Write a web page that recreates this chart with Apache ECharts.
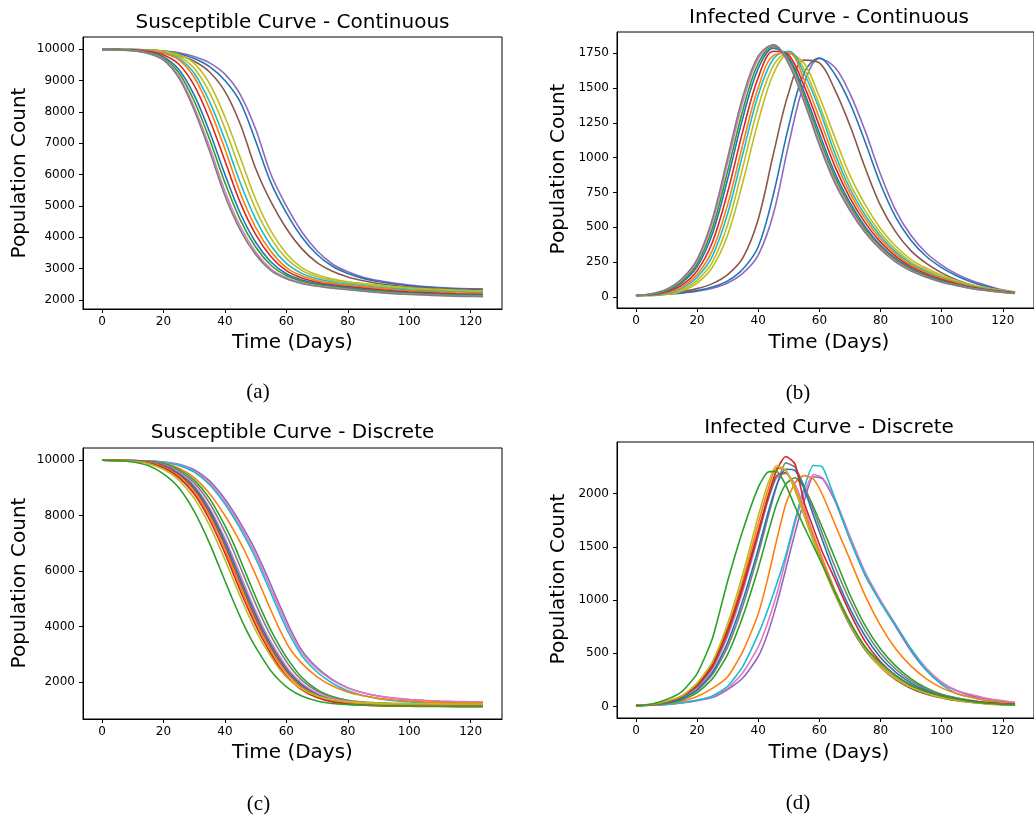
<!DOCTYPE html>
<html>
<head>
<meta charset="utf-8">
<script src="https://cdn.jsdelivr.net/npm/echarts@6/dist/echarts.min.js"></script>
<style>
  html, body { margin: 0; padding: 0; background: #fff; }
  #chart { width: 1034px; height: 821px; }
</style>
</head>
<body>
<div id="chart"></div>
<script>
// tab10 colours
const BLUE = '#1f77b4', ORANGE = '#ff7f0e', GREEN = '#2ca02c', RED = '#d62728', PURPLE = '#9467bd',
      BROWN = '#8c564b', PINK = '#e377c2', GRAY = '#7f7f7f', OLIVE = '#bcbd22', CYAN = '#17becf';

// time samples
const contDays = [0,5,10,15,20,25,30,35,40,45,50,55,60,65,70,75,80,85,90,95,100,105,110,115,120,124];
const discDays = [0,5,10,15,20,25,30,35,40,43,46,49,52,55,58,61,65,70,75,80,85,90,95,100,105,110,115,120,124];

// tick labels
const dayTicks = [0,20,40,60,80,100,120];
const ticksA = [2000,3000,4000,5000,6000,7000,8000,9000,10000];
const ticksB = [0,250,500,750,1000,1250,1500,1750];
const ticksC = [2000,4000,6000,8000,10000];
const ticksD = [0,500,1000,1500,2000];

// (a) susceptible, continuous
const sPurple = [9990,9988,9985,9975,9940,9880,9760,9560,9200,8550,7450,6000,5000,4180,3570,3150,2900,2730,2620,2540,2480,2430,2400,2375,2360,2353];
const sBlue2  = [9990,9987,9982,9968,9925,9850,9700,9440,9000,8312,7068,5734,4780,4013,3453,3077,2847,2692,2590,2515,2458,2413,2384,2362,2349,2342];
const sBrown  = [9990,9985,9974,9955,9900,9800,9610,9270,8650,7606,6192,5127,4281,3639,3192,2917,2735,2615,2531,2467,2415,2382,2356,2341,2333,2328];
const sOlive2 = [9990,9990,9988,9971,9929,9822,9546,8898,7836,6540,5212,4198,3487,3037,2804,2669,2586,2530,2481,2434,2395,2359,2340,2320,2302,2290];
const sOlive1 = [9990,9990,9984,9962,9906,9763,9387,8612,7473,6140,4898,3969,3330,2947,2744,2625,2551,2497,2447,2403,2364,2334,2314,2295,2278,2267];
const sCyan   = [9990,9990,9981,9953,9882,9705,9229,8323,7107,5737,4578,3734,3168,2852,2679,2577,2510,2459,2409,2368,2329,2304,2284,2264,2248,2238];
const sOrange = [9990,9990,9978,9946,9864,9658,9102,8094,6815,5414,4321,3545,3035,2773,2623,2533,2473,2424,2375,2335,2295,2275,2255,2235,2220,2212];
const sRed    = [9990,9987,9970,9925,9812,9517,8843,7757,6439,5107,4092,3383,2937,2705,2570,2488,2431,2381,2334,2294,2259,2239,2219,2201,2188,2180];
const sBlue   = [9990,9984,9960,9900,9749,9346,8532,7363,6006,4766,3844,3214,2841,2642,2525,2452,2397,2347,2302,2262,2233,2213,2193,2177,2165,2158];
const sGreen  = [9990,9981,9954,9884,9710,9243,8344,7125,5744,4559,3692,3109,2781,2601,2494,2426,2373,2323,2281,2241,2216,2196,2176,2159,2148,2142];
const sPink   = [9990,9979,9948,9869,9671,9138,8155,6884,5477,4346,3535,2999,2715,2555,2459,2396,2345,2295,2254,2214,2192,2172,2152,2137,2126,2121];
const sGray   = [9990,9978,9945,9860,9650,9080,8050,6750,5330,4230,3450,2940,2680,2530,2440,2380,2330,2280,2240,2200,2180,2160,2140,2125,2115,2110];

// (b) infected, continuous
const iPurple = [10,14,19,27,40,62,100,170,300,600,1100,1530,1712,1650,1460,1190,880,620,440,315,228,163,115,80,50,33];
const iBlue2  = [10,15,21,30,45,70,115,200,360,740,1230,1610,1715,1600,1390,1110,810,570,405,290,210,150,105,72,46,32];
const iBrown  = [10,18,26,38,59,95,160,282,558,1030,1470,1700,1680,1490,1230,925,655,465,330,240,172,121,85,55,40,30];
const iOlive2 = [10,10,17,42,99,213,444,827,1260,1604,1746,1677,1437,1149,872,661,491,363,268,205,155,116,85,64,47,37];
const iOlive1 = [10,10,21,50,119,249,519,935,1364,1663,1757,1637,1379,1081,815,617,458,339,250,192,145,109,80,60,44,35];
const iCyan   = [10,11,25,61,141,293,598,1031,1449,1712,1764,1604,1346,1034,778,586,435,321,237,183,137,103,76,57,42,33];
const iOrange = [10,13,29,70,160,334,663,1100,1503,1734,1751,1561,1284,990,746,560,415,306,227,175,131,99,72,54,40,32];
const iRed    = [10,15,36,84,188,392,752,1194,1575,1764,1736,1515,1228,941,711,531,393,290,215,165,124,93,68,51,38,30];
const iBlue   = [10,17,43,101,217,454,846,1288,1640,1785,1715,1470,1175,892,676,502,371,274,204,155,116,88,64,48,36,28];
const iGreen  = [10,19,47,111,236,493,903,1344,1676,1797,1701,1443,1141,863,655,486,359,265,197,150,112,85,62,47,35,27];
const iPink   = [10,21,52,123,257,535,964,1404,1712,1806,1685,1419,1112,838,635,471,348,256,190,143,107,82,59,45,33,26];
const iGray   = [10,22,55,130,270,560,1000,1440,1730,1810,1670,1400,1090,820,620,460,340,250,185,140,105,80,58,44,32,25];

// (c) susceptible, discrete
const sdPurple  = [9990,9990,9985,9970,9930,9850,9650,9250,8600,8100,7550,6950,6250,5500,4720,3980,3150,2520,2090,1800,1620,1500,1420,1370,1335,1310,1295,1285,1280];
const sdPink2   = [9990,9990,9984,9967,9922,9830,9602,9172,8500,7990,7430,6810,6100,5344,4572,3856,3074,2473,2065,1788,1616,1500,1424,1376,1342,1318,1304,1294,1290];
const sdCyan    = [9990,9989,9982,9962,9913,9808,9565,9110,8419,7898,7326,6687,5963,5196,4422,3716,2960,2365,1959,1688,1518,1405,1331,1284,1251,1228,1214,1205,1200];
const sdOrange2 = [9990,9987,9975,9942,9874,9709,9368,8792,8002,7442,6823,6113,5354,4579,3856,3231,2684,2192,1859,1645,1507,1415,1356,1317,1289,1270,1258,1252,1250];
const sdGreen2  = [9990,9990,9983,9954,9871,9664,9275,8619,7638,6942,6137,5337,4565,3863,3262,2737,2174,1730,1480,1343,1277,1242,1223,1210,1203,1198,1195,1192,1191];
const sdGray    = [9990,9990,9980,9946,9845,9605,9177,8452,7413,6677,5874,5079,4323,3656,3087,2580,2070,1677,1454,1335,1278,1249,1230,1218,1212,1207,1203,1201,1200];
const sdPink    = [9990,9990,9977,9936,9819,9545,9076,8280,7179,6401,5597,4807,4072,3436,2894,2410,1959,1596,1399,1298,1251,1224,1207,1196,1191,1186,1183,1181,1180];
const sdBlue    = [9990,9990,9976,9932,9806,9514,9024,8192,7059,6261,5458,4674,3954,3333,2800,2336,1899,1550,1366,1274,1232,1206,1190,1180,1175,1171,1167,1166,1165];
const sdBrown   = [9990,9989,9973,9922,9782,9471,8952,8087,6928,6120,5316,4540,3835,3231,2704,2262,1838,1513,1340,1253,1214,1189,1174,1165,1160,1156,1152,1151,1150];
const sdOrange  = [9990,9988,9968,9909,9753,9422,8868,7974,6797,5990,5189,4422,3735,3147,2629,2209,1801,1505,1341,1259,1221,1198,1183,1174,1169,1166,1162,1161,1160];
const sdRed     = [9990,9986,9963,9896,9721,9369,8778,7849,6646,5835,5032,4289,3611,3022,2509,2107,1722,1443,1287,1210,1174,1151,1137,1129,1124,1121,1117,1116,1115];
const sdOlive   = [9990,9983,9954,9871,9665,9277,8622,7644,6414,5612,4825,4092,3458,2919,2436,2079,1749,1499,1363,1296,1262,1243,1230,1223,1218,1215,1212,1211,1210];
const sdGreen   = [9990,9975,9930,9800,9500,9000,8150,7000,5650,4850,4100,3450,2900,2400,2030,1750,1500,1320,1230,1190,1165,1150,1140,1135,1130,1128,1126,1125,1125];

// (d) infected, discrete
const dPurple  = [10,12,20,34,55,85,160,270,470,680,960,1290,1630,1930,2160,2140,1940,1570,1230,980,750,520,340,220,145,100,70,50,35];
const dPink2   = [10,12,22,38,60,95,170,320,560,780,1050,1380,1720,2000,2180,2150,1960,1600,1260,1000,770,540,360,230,150,110,75,55,40];
const dCyan    = [10,12,20,35,58,100,190,380,680,900,1150,1420,1750,2050,2265,2250,1960,1570,1240,980,760,540,340,205,120,85,55,38,25];
const dOrange2 = [10,14,28,52,95,170,280,520,870,1190,1560,1900,2100,2170,2140,1990,1720,1380,1040,760,540,380,260,175,120,85,55,38,28];
const dGreen2  = [10,14,30,62,130,260,490,850,1300,1610,1900,2090,2150,2060,1880,1680,1400,1050,760,540,380,260,175,115,80,55,38,26,20];
const dGray    = [10,15,32,70,150,300,560,950,1430,1760,2070,2290,2250,2070,1850,1620,1320,990,710,500,350,240,165,110,78,52,35,24,18];
const dPink    = [10,17,40,85,180,350,660,1090,1600,1920,2150,2190,2090,1870,1620,1390,1100,800,560,390,270,185,125,85,60,42,28,20,15];
const dBlue    = [10,15,35,75,160,320,600,1000,1480,1800,2080,2230,2220,2050,1800,1560,1250,920,660,460,320,220,150,100,70,48,33,22,17];
const dBrown   = [10,18,42,90,190,370,690,1120,1620,1930,2170,2200,2040,1800,1560,1340,1060,760,530,370,250,170,115,80,55,38,25,18,14];
const dOrange  = [10,20,48,100,210,400,740,1190,1720,2020,2240,2220,2060,1840,1600,1380,1090,790,550,380,265,180,125,85,60,40,27,19,14];
const dRed     = [10,18,45,95,200,390,720,1150,1650,1960,2220,2350,2280,1920,1680,1450,1200,880,610,420,290,200,140,100,70,50,35,25,20];
const dOlive   = [10,20,50,100,220,420,780,1250,1790,2080,2265,2220,2040,1800,1560,1330,1060,770,540,370,260,180,125,85,60,40,25,18,12];
const dGreen   = [10,22,65,140,310,640,1180,1660,2060,2200,2210,2080,1880,1690,1510,1330,1080,790,560,410,290,200,140,100,70,45,30,20,15];

// drawing order and colours per panel
const contColors = [PURPLE, BLUE, BROWN, OLIVE, OLIVE, CYAN, ORANGE, RED, BLUE, GREEN, PINK, GRAY];
const contS = [sPurple, sBlue2, sBrown, sOlive2, sOlive1, sCyan, sOrange, sRed, sBlue, sGreen, sPink, sGray];
const contI = [iPurple, iBlue2, iBrown, iOlive2, iOlive1, iCyan, iOrange, iRed, iBlue, iGreen, iPink, iGray];
const discColors = [PURPLE, PINK, CYAN, ORANGE, GREEN, GRAY, PINK, BLUE, BROWN, ORANGE, RED, OLIVE, GREEN];
const discS = [sdPurple, sdPink2, sdCyan, sdOrange2, sdGreen2, sdGray, sdPink, sdBlue, sdBrown, sdOrange, sdRed, sdOlive, sdGreen];
const discI = [dPurple, dPink2, dCyan, dOrange2, dGreen2, dGray, dPink, dBlue, dBrown, dOrange, dRed, dOlive, dGreen];

const chart = echarts.init(document.getElementById('chart'), null, { renderer: 'canvas' });
const FONT = 'DejaVu Sans';

function xAxisFor(i) {
    return {
        gridIndex: i, type: 'value', min: -6.2, max: 130.2,
        splitLine: { show: false },
        axisLine: { show: true, onZero: false, lineStyle: { color: '#000', width: 1 } },
        axisTick: { show: true, inside: false, length: 4, lineStyle: { color: '#000', width: 1 }, customValues: dayTicks },
        axisLabel: { customValues: dayTicks, margin: 7, fontSize: 12, fontFamily: FONT, color: '#000',
                     formatter: function (v) { return String(v); } }
    };
}
function yAxisFor(i, min, max, ticks) {
    return {
        gridIndex: i, type: 'value', min: min, max: max,
        splitLine: { show: false },
        axisLine: { show: true, onZero: false, lineStyle: { color: '#000', width: 1 } },
        axisTick: { show: true, inside: false, length: 4, lineStyle: { color: '#000', width: 1 }, customValues: ticks },
        axisLabel: { customValues: ticks, margin: 8, fontSize: 12, fontFamily: FONT, color: '#000',
                     formatter: function (v) { return String(v); } }
    };
}
function linesFor(i, days, list, colors, smooth) {
    return list.map(function (vals, k) {
        return {
            type: 'line', xAxisIndex: i, yAxisIndex: i,
            data: days.map(function (d, j) { return [d, vals[j]]; }),
            showSymbol: false, symbol: 'none', smooth: smooth,
            lineStyle: { width: 1.6, color: colors[k] },
            itemStyle: { color: colors[k] },
            silent: true
        };
    });
}
function label(text, x, y, size, rot, family) {
    return {
        type: 'text', x: x, y: y, rotation: rot || 0, silent: true,
        style: {
            text: text, font: size + 'px "' + (family || FONT) + '"', fill: '#000',
            textAlign: 'center', textVerticalAlign: 'middle', align: 'center', verticalAlign: 'middle'
        }
    };
}

const gridStyle = { show: true, borderColor: '#000', borderWidth: 1, backgroundColor: 'transparent' };

chart.setOption({
    animation: false,
    backgroundColor: '#fff',
    grid: [
        Object.assign({ left: 83, top: 37, width: 419, height: 272 }, gridStyle),
        Object.assign({ left: 617, top: 32, width: 425, height: 276 }, gridStyle),
        Object.assign({ left: 83, top: 448, width: 419, height: 271 }, gridStyle),
        Object.assign({ left: 617, top: 442, width: 425, height: 276 }, gridStyle)
    ],
    xAxis: [xAxisFor(0), xAxisFor(1), xAxisFor(2), xAxisFor(3)],
    yAxis: [
        yAxisFor(0, 1716, 10384, ticksA),
        yAxisFor(1, -80, 1902, ticksB),
        yAxisFor(2, 671, 10434, ticksC),
        yAxisFor(3, -108, 2486, ticksD)
    ],
    series: [].concat(
        linesFor(0, contDays, contS, contColors, 0.35),
        linesFor(1, contDays, contI, contColors, 0.35),
        linesFor(2, discDays, discS, discColors, 0.25),
        linesFor(3, discDays, discI, discColors, 0.2)
    ),
    graphic: [
        label('Susceptible Curve - Continuous', 292.5, 23, 20),
        label('Infected Curve - Continuous', 829, 18, 20),
        label('Susceptible Curve - Discrete', 292.5, 433, 20),
        label('Infected Curve - Discrete', 829, 428, 20),
        label('Time (Days)', 292.5, 343, 20),
        label('Time (Days)', 829, 343, 20),
        label('Time (Days)', 292.5, 753, 20),
        label('Time (Days)', 829, 753, 20),
        label('Population Count', 20, 173, 20, Math.PI / 2),
        label('Population Count', 559, 169, 20, Math.PI / 2),
        label('Population Count', 20, 583, 20, Math.PI / 2),
        label('Population Count', 559, 579, 20, Math.PI / 2),
        label('(a)', 258, 392, 21, 0, 'Liberation Serif'),
        label('(b)', 798, 393, 21, 0, 'Liberation Serif'),
        label('(c)', 258.5, 804, 21, 0, 'Liberation Serif'),
        label('(d)', 798, 803, 21, 0, 'Liberation Serif')
    ]
});
</script>
</body>
</html>
